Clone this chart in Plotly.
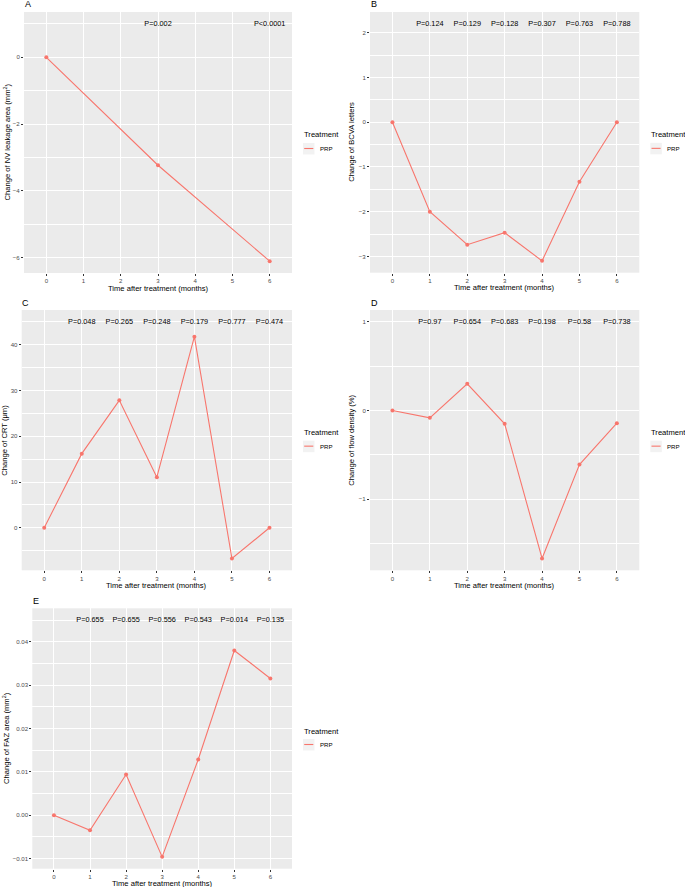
import plotly.graph_objects as go

W, H = 685, 887

# data
months_nv = [0, 3, 6]
nv_change = [0, -3.23, -6.1]
months = [0, 1, 2, 3, 4, 5, 6]
bcva_change = [0, -2, -2.74, -2.47, -3.1, -1.33, 0]
crt_change = [0, 16.2, 27.85, 11.05, 41.75, -6.7, 0]
flow_change = [0, -0.083, 0.30, -0.15, -1.67, -0.61, -0.143]
faz_change = [0, -0.00346, 0.0094, -0.0096, 0.01285, 0.038, 0.03155]

# p-value labels
p_months_nv = [3, 6]
p_months = [1, 2, 3, 4, 5, 6]
p_nv = ["P=0.002", "P<0.0001"]
p_bcva = ["P=0.124", "P=0.129", "P=0.128", "P=0.307", "P=0.763", "P=0.788"]
p_crt = ["P=0.048", "P=0.265", "P=0.248", "P=0.179", "P=0.777", "P=0.474"]
p_flow = ["P=0.97", "P=0.654", "P=0.683", "P=0.198", "P=0.58", "P=0.738"]
p_faz = ["P=0.655", "P=0.655", "P=0.556", "P=0.543", "P=0.014", "P=0.135"]
p_level_nv = 1
p_level_bcva = 2.2
p_level_crt = 45
p_level_flow = 1
p_level_faz = 0.045

x_ticks = [0, 1, 2, 3, 4, 5, 6]

RED = "#F8766D"
FONT = "Liberation Sans, Arial, sans-serif"

panels = [
    dict(tag="A", x=months_nv, y=nv_change, px=p_months_nv, pt=p_nv, py=p_level_nv,
         ytitle="Change of NV leakage area (mm<sup>2</sup>)", dtick=2, fmt="",
         box=(24, 12, 292, 273), ytx=6),
    dict(tag="B", x=months, y=bcva_change, px=p_months, pt=p_bcva, py=p_level_bcva,
         ytitle="Change of BCVA letters", dtick=1, fmt="",
         box=(370, 12, 639.3, 272.7), ytx=351.5),
    dict(tag="C", x=months, y=crt_change, px=p_months, pt=p_crt, py=p_level_crt,
         ytitle="Change of CRT (\u03bcm)", dtick=10, fmt="",
         box=(21.7, 310, 292, 570.3), ytx=4.5),
    dict(tag="D", x=months, y=flow_change, px=p_months, pt=p_flow, py=p_level_flow,
         ytitle="Change of flow density (%)", dtick=1, fmt="",
         box=(370, 310, 639.3, 570.3), ytx=351.5),
    dict(tag="E", x=months, y=faz_change, px=p_months, pt=p_faz, py=p_level_faz,
         ytitle="Change of FAZ area (mm<sup>2</sup>)", dtick=0.01, fmt=".2f",
         box=(32.3, 608.3, 292, 868.7), ytx=5.5),
]

fig = go.Figure()
annotations = []
shapes = []


def note(text, x, y, size, **kw):
    # text placed in page pixels, converted to paper coordinates
    annotations.append(dict(text=text, xref="paper", yref="paper", x=x / W, y=1 - y / H,
                            showarrow=False, yanchor="middle",
                            font=dict(family=FONT, size=size, color="black"), **kw))


for i, p in enumerate(panels):
    n = "" if i == 0 else str(i + 1)
    xref, yref = "x" + n, "y" + n
    left, top, right, bottom = p["box"]

    fig.add_trace(go.Scatter(x=p["x"], y=p["y"], mode="lines+markers",
                             line=dict(color=RED, width=1.1),
                             marker=dict(color=RED, size=4),
                             showlegend=False, hoverinfo="x+y",
                             xaxis=xref, yaxis=yref))
    fig.add_trace(go.Scatter(x=p["px"], y=[p["py"]] * len(p["px"]), mode="text",
                             text=p["pt"], textfont=dict(family=FONT, size=7.3, color="black"),
                             showlegend=False, hoverinfo="skip",
                             xaxis=xref, yaxis=yref))

    # ggplot style 5% expansion of the y range
    vals = list(p["y"]) + [p["py"]]
    lo, hi = min(vals), max(vals)
    pad = (hi - lo) * 0.05

    axis_font = dict(family=FONT, size=6.1, color="#4D4D4D")
    fig.layout["xaxis" + n] = dict(
        domain=[left / W, right / W], anchor=yref, range=[-0.6, 6.6],
        tickvals=x_ticks, showgrid=True, gridcolor="white", gridwidth=1,
        zeroline=False, ticks="outside", ticklen=2, tickwidth=0.7, tickcolor="#333333",
        tickfont=axis_font, showline=False, fixedrange=True)
    fig.layout["yaxis" + n] = dict(
        domain=[1 - bottom / H, 1 - top / H], anchor=xref, range=[lo - pad, hi + pad],
        dtick=p["dtick"], tick0=0, tickformat=p["fmt"],
        showgrid=True, gridcolor="white", gridwidth=1,
        minor=dict(dtick=p["dtick"] / 2, tick0=0, showgrid=True, gridcolor="white", gridwidth=0.5),
        zeroline=False, ticks="outside", ticklen=2, tickwidth=0.7, tickcolor="#333333",
        tickfont=axis_font, showline=False, fixedrange=True)

    cy = (top + bottom) / 2
    # axis titles and panel tag
    note("Time after treatment (months)", (left + right) / 2, bottom + 15, 7.6, xanchor="center")
    note(p["ytitle"], p["ytx"], cy, 7.6, xanchor="center", textangle=-90)
    note(p["tag"], left - 1.5, top - 7.5, 9, xanchor="left")

    # legend drawn by hand, ggplot style
    lx = right + 11
    note("Treatment", lx - 1, cy - 7.5, 7.6, xanchor="left")
    shapes.append(dict(type="rect", xref="paper", yref="paper",
                       x0=lx / W, x1=(lx + 11.5) / W, y0=1 - (cy + 12) / H, y1=1 - (cy + 0.5) / H,
                       fillcolor="#F2F2F2", line=dict(width=0)))
    shapes.append(dict(type="line", xref="paper", yref="paper",
                       x0=(lx + 1.2) / W, x1=(lx + 10.3) / W, y0=1 - (cy + 6) / H, y1=1 - (cy + 6) / H,
                       line=dict(color=RED, width=1.1)))
    note("PRP", lx + 14.5, cy + 6, 6.1, xanchor="left")

fig.update_layout(width=W, height=H, margin=dict(l=0, r=0, t=0, b=0),
                  paper_bgcolor="white", plot_bgcolor="#EBEBEB",
                  annotations=annotations, shapes=shapes, showlegend=False)

# page body has a default 8px margin; drop it so the figure fills the window
fig.write_html("out.html", config={"displayModeBar": False},
               post_script="document.body.style.margin='0';document.documentElement.style.overflow='hidden';")
